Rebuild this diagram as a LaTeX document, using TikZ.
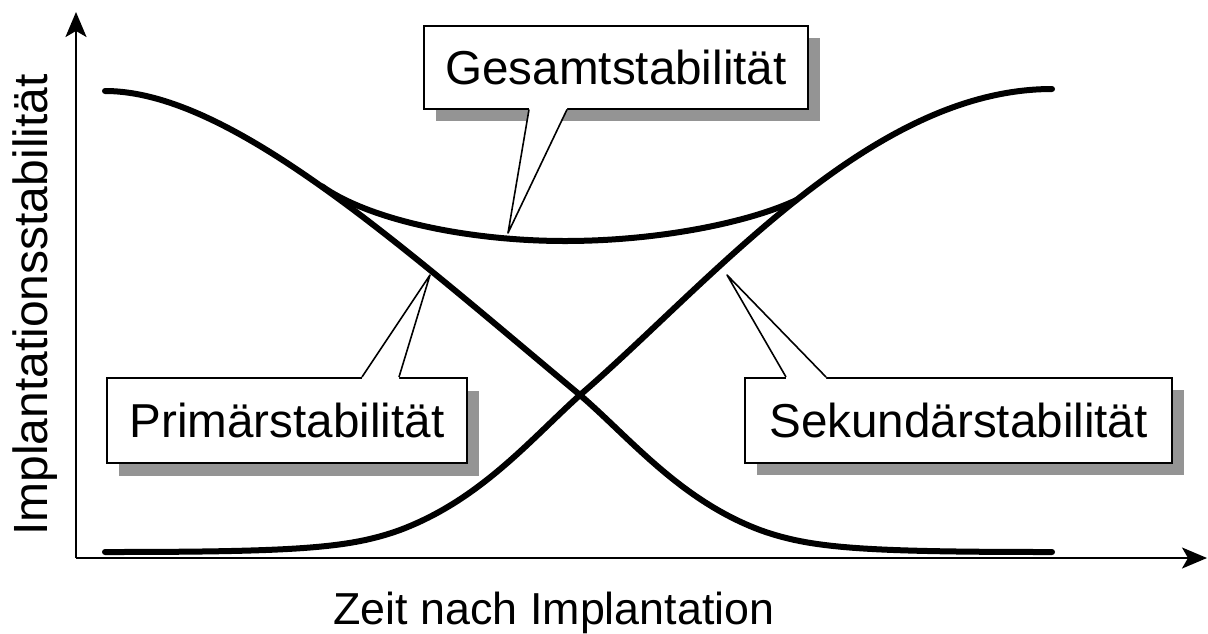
\documentclass[tikz,border=0pt]{standalone}
\usepackage{fontspec}
\setmainfont{Liberation Sans}
\usetikzlibrary{arrows.meta,calc}
\begin{document}
\begin{tikzpicture}[x=0.5pt,y=-0.5pt,
  curve/.style={line width=3pt, line cap=round, line join=round},
  axis/.style={line width=1.1pt, -{Stealth[length=12.5pt,width=10.5pt,inset=3pt]}},
  lbl/.style={draw, line width=1pt, fill=white, inner sep=0pt, minimum height=41.5pt,
    font=\fontsize{23.8pt}{28pt}\selectfont},
  shadowbox/.style={fill=black!42, inner sep=0pt, minimum height=41.5pt},
  ptr/.style={line width=0.8pt, line join=round},
  axlabel/.style={inner sep=0pt, anchor=base}]

\path[use as bounding box] (0,0) rectangle (1208,633);

% axes
\coordinate (O) at (76,558);
\coordinate (Ytop) at (76,12);
\coordinate (Xend) at (1207,558);
\draw[axis] (O) -- (Ytop);
\draw[axis] (O) -- (Xend);
\node[axlabel, rotate=90, font=\fontsize{24pt}{28pt}\selectfont] (ylab) at (47,305) {Implantationsstabilität};
\node[axlabel, font=\fontsize{22.4pt}{27pt}\selectfont] (xlab) at (554,624) {Zeit nach Implantation};

% Primaerstabilitaet curve
\draw[curve] (105,91) .. controls (230,91) and (400,245) .. (580,395)
  .. controls (630,438) and (680,500) .. (760,530)
  .. controls (810,548) and (860,552) .. (1052,552);
% Sekundaerstabilitaet curve
\draw[curve] (105,552) .. controls (300,552) and (350,548) .. (400,530)
  .. controls (480,500) and (530,440) .. (580,395)
  .. controls (710,283) and (870,89) .. (1052,89);
% Gesamtstabilitaet curve (where it leaves the other two)
\draw[curve] (321.9,186.25) .. controls (370,220.5) and (470,241) .. (565,241)
  .. controls (660,241) and (750,222) .. (796.5,200);

% Gesamtstabilitaet
\node[shadowbox, minimum width=192pt] (gs) at (628,79) {};
\node[lbl, minimum width=192pt] (g) at (616,67) {Gesamtstabilität};
\coordinate (gtip) at (508,233);
\coordinate (gl) at ($(g.south west)+(106,0)$);
\coordinate (gr) at ($(g.south west)+(144,0)$);
\fill[white] ($(gl)+(0,-4)$) -- (gl) -- (gtip) -- (gr) -- ($(gr)+(0,-4)$) -- cycle;
\draw[ptr] (gl) -- (gtip) -- (gr);

% Primaerstabilitaet
\node[shadowbox, minimum width=180pt, minimum height=42.5pt] (ps) at (299,433) {};
\node[lbl, minimum width=180pt, minimum height=42.5pt] (p) at (287,420.5) {Primärstabilität};
\coordinate (ptip) at (430,275);
\coordinate (pl) at ($(p.north west)+(256,0)$);
\coordinate (pr) at ($(p.north west)+(293,0)$);
\fill[white] ($(pl)+(0,4)$) -- (pl) -- (ptip) -- (pr) -- ($(pr)+(0,4)$) -- cycle;
\draw[ptr] (pl) -- (ptip) -- (pr);

% Sekundaerstabilitaet
\node[shadowbox, minimum width=213.5pt, minimum height=42.5pt] (ss) at (970,432) {};
\node[lbl, minimum width=213.5pt, minimum height=42.5pt] (s) at (958.5,420.5) {Sekundärstabilität};
\coordinate (stip) at (727,275);
\coordinate (sl) at ($(s.north west)+(42,0)$);
\coordinate (sr) at ($(s.north west)+(82,0)$);
\fill[white] ($(sl)+(0,4)$) -- (sl) -- (stip) -- (sr) -- ($(sr)+(0,4)$) -- cycle;
\draw[ptr] (sl) -- (stip) -- (sr);
\end{tikzpicture}
\end{document}
